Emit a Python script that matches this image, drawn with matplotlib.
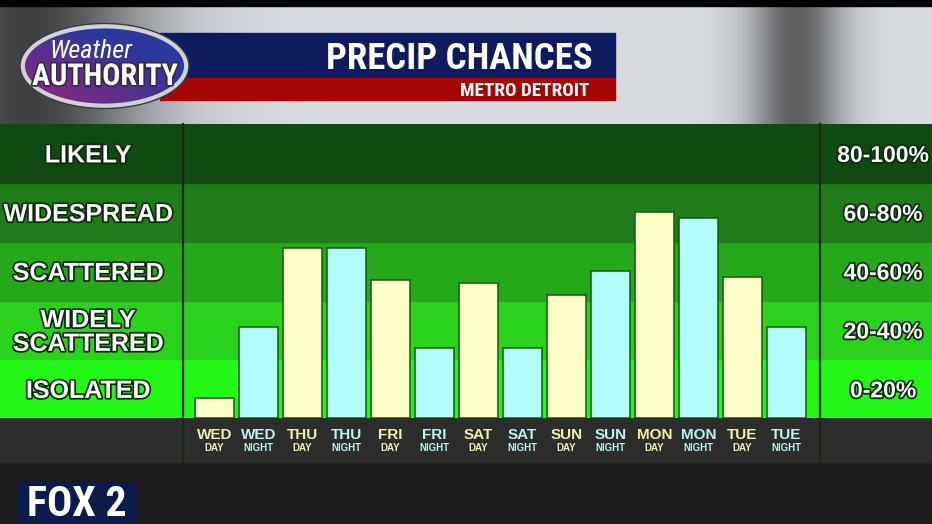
import matplotlib
matplotlib.use('Agg')
from matplotlib import pyplot as plt
from matplotlib import patheffects, font_manager
from matplotlib.patches import Rectangle, Ellipse
from matplotlib.transforms import blended_transform_factory, offset_copy
import numpy as np

# chart data
days = ['WED', 'WED', 'THU', 'THU', 'FRI', 'FRI', 'SAT', 'SAT',
        'SUN', 'SUN', 'MON', 'MON', 'TUE', 'TUE']
parts = ['DAY', 'NIGHT'] * 7
chances = [7, 31, 58, 58, 47, 24, 46, 24, 42, 50, 70, 68, 48, 31]

band_edges = [0, 20, 40, 60, 80, 100]
band_names = ['ISOLATED', 'WIDELY\nSCATTERED', 'SCATTERED', 'WIDESPREAD', 'LIKELY']
band_ranges = ['0-20%', '20-40%', '40-60%', '60-80%', '80-100%']
band_colors = ['#23f817', '#2ad21c', '#25a819', '#1f7c18', '#104a10']

title = 'PRECIP CHANCES'
subtitle = 'METRO DETROIT'

DAY_BAR, NIGHT_BAR = '#fefec6', '#b2fcfc'
DAY_TXT, NIGHT_TXT = '#f2eeb4', '#bdf2f2'

# fonts: prefer a condensed face for the TV-style header
names = {f.name for f in font_manager.fontManager.ttflist}
narrow = 'Roboto'
for cand in ['Roboto Condensed', 'Liberation Sans Narrow', 'Open Sans Condensed',
             'DejaVu Sans Condensed']:
    if cand in names:
        narrow = cand
        break
plt.rcParams['font.family'] = ['Liberation Sans', 'DejaVu Sans']

W, H = 932, 524
fig = plt.figure(figsize=(W / 100, H / 100), dpi=100)
renderer = fig.canvas.get_renderer()


def fit(t, width):
    w = t.get_window_extent(renderer).width
    t.set_fontsize(t.get_fontsize() * width / w)


# background (rainy glass look)
bg = fig.add_axes([0, 0, 1, 1])
bg.set_xlim(0, W)
bg.set_ylim(H, 0)
bg.axis('off')
xs = np.linspace(0, 1, W)[None, :]
ys = np.linspace(0, 1, H)[:, None]
top = (0.88 - 0.62 * np.exp(-((xs - 0.03) / 0.13) ** 2)
       - 0.5 * np.exp(-((xs - 0.855) / 0.05) ** 2))
mix = 1 / (1 + np.exp(-(ys - 0.55) * 30))
gray = top * (1 - mix) + 0.12 * mix
img = np.dstack([gray * 0.96, gray * 0.98, gray])
bg.imshow(img, extent=[0, W, H, 0], aspect='auto', zorder=0)
bg.add_patch(Rectangle((0, 0), W, 6, color='black', zorder=1))

# header banner
bg.add_patch(Rectangle((160, 32.7), 455, 45.6, color='#0e1b5c', zorder=2))
bg.add_patch(Rectangle((160, 78.3), 455, 21.7, color='#a50505', zorder=2))
t = bg.text(593, 69.3, title, color='white', fontsize=27, fontweight='bold',
            family=narrow, ha='right', va='baseline', zorder=3)
fit(t, 266)
t = bg.text(589, 96, subtitle, color='white', fontsize=12, fontweight='bold',
            family=narrow, ha='right', va='baseline', zorder=3)
fit(t, 129)

# weather authority logo
oval = Ellipse((104.5, 66), 164, 80, facecolor='none', edgecolor='#cfd3d8',
               linewidth=3.5, zorder=5)
grad = np.linspace(0, 1, 60)[None, :] * 0.5 + np.linspace(0, 1, 40)[:, None] * 0.5
grad = np.clip(grad * 1.6 - 0.5, 0, 1)
c1, c2 = np.array([0.17, 0.22, 0.62]), np.array([0.55, 0.15, 0.50])
logo_img = c1[None, None, :] * (1 - grad[..., None]) + c2[None, None, :] * grad[..., None]
logo_img = logo_img[:, ::-1]
im = bg.imshow(logo_img, extent=[22, 187, 106, 26], aspect='auto', zorder=4)
clip = Ellipse((104.5, 66), 164, 80, transform=bg.transData)
im.set_clip_path(clip)
bg.add_patch(oval)
bg.add_patch(Ellipse((104.5, 66), 169, 85, facecolor='none', edgecolor='#3a3a3a',
                     linewidth=1, zorder=5))
t = bg.text(91, 58, 'Weather', color='white', fontsize=20, style='italic',
            family=narrow, ha='center', va='baseline', zorder=6)
fit(t, 83)
t = bg.text(105, 85, 'AUTHORITY', color='white', fontsize=25, fontweight='bold',
            family=narrow, ha='center', va='baseline', zorder=6,
            path_effects=[patheffects.withStroke(linewidth=2.5, foreground='#3a2a40')])
fit(t, 146)

# label strip under the bars
bg.add_patch(Rectangle((0, 418.3), W, 44, color='#2d2d2b', zorder=2))

# FOX 2 bug
bg.add_patch(Rectangle((18, 482), 118, 45, color='#0b1c4c', zorder=2))
t = bg.text(77, 516, 'FOX 2', color='white', fontsize=24, fontweight='heavy',
            family=narrow, ha='center', va='baseline', zorder=3)
fit(t, 100)

# chart area
ax = fig.add_axes([0, 1 - 418.3 / H, 1, (418.3 - 124) / H])
pitch, first = 44, 214.5
ax.set_xlim(-first / pitch, (W - first) / pitch)
ax.set_ylim(0, 100)
ax.axis('off')
for lo, hi, c in zip(band_edges[:-1], band_edges[1:], band_colors):
    ax.axhspan(lo, hi, color=c, zorder=0)

x = np.arange(len(chances))
bar_colors = [DAY_BAR if p == 'DAY' else NIGHT_BAR for p in parts]
ax.bar(x, chances, width=0.9, color=bar_colors, edgecolor='#1c5417',
       linewidth=1.1, zorder=3)

# panel dividers
for xd in (183, 820):
    ax.plot([xd, xd], [124, 462], color='#132a13', linewidth=1.6,
            transform=bg.transData, clip_on=False, zorder=4)

# band labels left and right
side = blended_transform_factory(bg.transData, ax.transData)
shadow = [patheffects.withStroke(linewidth=2.5, foreground='#0a2a0a')]
for lo, hi, name, rng in zip(band_edges[:-1], band_edges[1:], band_names, band_ranges):
    mid = (lo + hi) / 2
    lines = name.split('\n')
    n = len(lines)
    for j, line in enumerate(lines):
        dy = 9 + (j - (n - 1) / 2) * 23.7
        tf = offset_copy(side, fig=fig, x=0, y=-dy, units='dots')
        ax.text(88, mid, line, transform=tf, color='white', fontsize=18,
                fontweight='bold', ha='center', va='baseline', zorder=5,
                path_effects=shadow)
    tf = offset_copy(side, fig=fig, x=0, y=-8.5, units='dots')
    ax.text(883, mid, rng, transform=tf, color='white', fontsize=16.5,
            fontweight='bold', ha='center', va='baseline', zorder=5,
            path_effects=shadow)

# period labels
tf = blended_transform_factory(ax.transData, bg.transData)
for i, (d, p) in enumerate(zip(days, parts)):
    col = DAY_TXT if p == 'DAY' else NIGHT_TXT
    ax.text(i, 439.3, d, transform=tf, color=col, fontsize=11, fontweight='bold',
            ha='center', va='baseline', zorder=5)
    ax.text(i, 451, p, transform=tf, color=col, fontsize=7, fontweight='bold',
            ha='center', va='baseline', zorder=5)

fig.savefig('out.png', dpi=100)
